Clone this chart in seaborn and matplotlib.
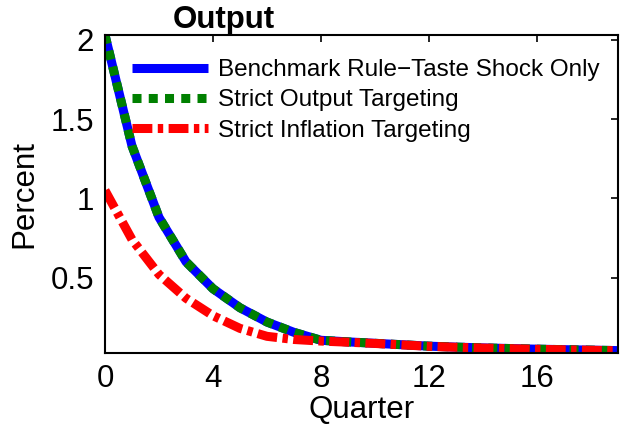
import matplotlib
matplotlib.use("Agg")
import matplotlib.pyplot as plt
import seaborn as sns
import pandas as pd

quarters = list(range(20))
benchmark = [2.03, 1.33, 0.88, 0.60, 0.43, 0.31, 0.22, 0.155, 0.105, 0.095,
             0.086, 0.077, 0.068, 0.062, 0.057, 0.053, 0.049, 0.046, 0.043, 0.040]
output_targeting = [2.03, 1.33, 0.88, 0.60, 0.43, 0.31, 0.22, 0.155, 0.105, 0.095,
                    0.086, 0.077, 0.068, 0.062, 0.057, 0.053, 0.049, 0.046, 0.043, 0.040]
inflation_targeting = [1.05, 0.74, 0.52, 0.37, 0.26, 0.18, 0.13, 0.11, 0.10, 0.093,
                       0.085, 0.076, 0.067, 0.061, 0.056, 0.052, 0.048, 0.045, 0.042, 0.039]
labels = ["Benchmark Rule\u2212Taste Shock Only", "Strict Output Targeting",
          "Strict Inflation Targeting"]
xticks = [0, 4, 8, 12, 16]
yticks = [0.5, 1, 1.5, 2]
yticklabels = ["0.5", "1", "1.5", "2"]

sns.set_style("white")
plt.rcParams['font.family'] = ['Liberation Sans', 'DejaVu Sans']
plt.rcParams['text.color'] = 'black'
plt.rcParams['axes.labelcolor'] = 'black'
plt.rcParams['xtick.color'] = 'black'
plt.rcParams['ytick.color'] = 'black'

fig = plt.figure(figsize=(6.21, 4.36), dpi=100)
ax = fig.add_axes([105/621, 1-352.5/436, 513/621, (352.5-35)/436])

df = pd.DataFrame({"Quarter": quarters, "b": benchmark, "o": output_targeting,
                   "i": inflation_targeting})

lw = 6.5
sns.lineplot(data=df, x="Quarter", y="b", color="#0000ff", lw=lw, ax=ax, label=labels[0])
sns.lineplot(data=df, x="Quarter", y="o", color="#008000", lw=lw, ax=ax, label=labels[1])
ax.lines[-1].set_dashes((1.0, 0.8))
sns.lineplot(data=df, x="Quarter", y="i", color="#ff0000", lw=lw, ax=ax, label=labels[2])
ax.lines[-1].set_dashes((2.2, 0.6, 0.6, 0.6))
for ln in ax.lines:
    ln.set_dash_capstyle("butt")
    ln.set_solid_capstyle("butt")

ax.set_xlim(0, 19)
ax.set_ylim(0.028, 2.03)
ax.set_xticks(xticks)
ax.set_xticklabels([str(t) for t in xticks])
ax.set_yticks(yticks)
ax.set_yticklabels(yticklabels)
ax.tick_params(direction="in", length=5, width=1.2, labelsize=22.5, top=True, right=True,
               pad=8, colors="black")
for s in ax.spines.values():
    s.set_visible(True)
    s.set_linewidth(1.5)
    s.set_color("black")

ax.set_xlabel("Quarter", fontsize=22.5, labelpad=1, color="black")
ax.set_ylabel("Percent", fontsize=22.5, labelpad=8, color="black")

fig.text(224/621, 1-28/436, "Output", fontsize=22.5, fontweight="bold",
         ha="center", va="baseline", color="black")

leg = ax.legend(loc="upper left", bbox_to_anchor=(132/621, 1-59/436),
                bbox_transform=fig.transFigure, frameon=False, fontsize=17.5,
                handlelength=3.13, handletextpad=0.41, labelspacing=0.34,
                borderpad=0, borderaxespad=0)
for t in leg.get_texts():
    t.set_color("black")
for h in leg.get_lines():
    h.set_linewidth(lw)
    h.set_dash_capstyle("butt")

fig.savefig("out.png", dpi=100)
